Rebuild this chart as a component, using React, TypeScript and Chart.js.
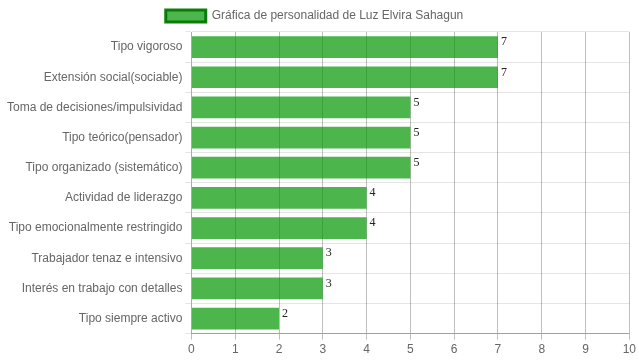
import React, { useEffect, useRef } from "react";
import { Chart, registerables } from "chart.js";

Chart.register(...registerables);

const categories = [
  "Tipo vigoroso",
  "Extensión social(sociable)",
  "Toma de decisiones/impulsividad",
  "Tipo teórico(pensador)",
  "Tipo organizado (sistemático)",
  "Actividad de liderazgo",
  "Tipo emocionalmente restringido",
  "Trabajador tenaz e intensivo",
  "Interés en trabajo con detalles",
  "Tipo siempre activo",
];
const values = [7, 7, 5, 5, 5, 4, 4, 3, 3, 2];
const seriesLabel = "Gráfica de personalidad de Luz Elvira Sahagun";
const xMin = 0;
const xMax = 10;

const valueLabels = {
  id: "valueLabels",
  afterDatasetsDraw(chart: any) {
    const ctx = chart.ctx;
    const meta = chart.getDatasetMeta(0);
    ctx.save();
    ctx.font = '12px "Liberation Serif", "Times New Roman", serif';
    ctx.fillStyle = "#222";
    ctx.textAlign = "left";
    ctx.textBaseline = "top";
    meta.data.forEach((bar: any, i: number) => {
      const top = bar.y - bar.height / 2;
      ctx.fillText(String(chart.data.datasets[0].data[i]), bar.x + 3, top);
    });
    ctx.restore();
  },
};

const legendShift = {
  id: "legendShift",
  afterLayout(chart: any) {
    if (chart.legend) {
      chart.legend.left -= 7;
      chart.legend.right -= 7;
      if (chart.legend.adjustHitBoxes) chart.legend.adjustHitBoxes();
    }
  },
};

export default function App() {
  const ref = useRef<HTMLCanvasElement>(null);
  useEffect(() => {
    document.body.style.margin = "0";
    Chart.defaults.font.family = '"Liberation Sans", Arial, Helvetica, sans-serif';
    Chart.defaults.font.size = 12;
    Chart.defaults.color = "#666";
    const chart = new Chart(ref.current!, {
      type: "bar",
      data: {
        labels: categories,
        datasets: [
          {
            label: seriesLabel,
            data: values,
            backgroundColor: "rgba(0,150,0,0.7)",
            borderColor: "rgba(0,120,0,0.9)",
            borderWidth: 0,
            barPercentage: 0.9,
            categoryPercentage: 0.8,
          },
        ],
      },
      options: {
        indexAxis: "y",
        responsive: false,
        animation: false,
        layout: { padding: { left: 4, right: 0, top: 0, bottom: 0 } },
        plugins: {
          legend: {
            labels: {
              boxWidth: 40,
              boxHeight: 12,
              color: "#666",
              generateLabels: () => [
                {
                  text: seriesLabel,
                  fillStyle: "rgba(0,150,0,0.7)",
                  strokeStyle: "rgba(0,120,0,0.95)",
                  fontColor: "#666",
                  lineWidth: 3,
                  datasetIndex: 0,
                  hidden: false,
                },
              ],
            },
          },
          tooltip: { enabled: false },
        },
        scales: {
          x: {
            min: xMin,
            max: xMax,
            ticks: { stepSize: 1, color: "#666" },
            grid: { color: "rgba(0,0,0,0.25)", tickLength: 6 },
            border: { color: "rgba(0,0,0,0.3)" },
          },
          y: {
            ticks: { color: "#666" },
            grid: { color: "rgba(0,0,0,0.1)", tickLength: 6 },
            border: { color: "rgba(0,0,0,0.1)" },
          },
        },
      },
      plugins: [valueLabels, legendShift],
    });
    return () => chart.destroy();
  }, []);
  return <canvas ref={ref} width={639} height={360} style={{ display: "block" }} />;
}
